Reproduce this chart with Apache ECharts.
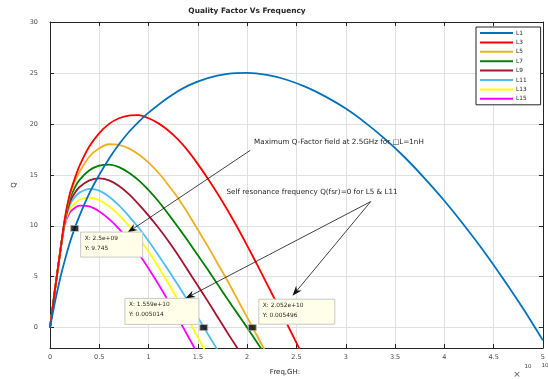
<!DOCTYPE html>
<html><head><meta charset="utf-8">
<script src="https://cdn.jsdelivr.net/npm/echarts@6/dist/echarts.min.js"></script>
<style>html,body{margin:0;padding:0;background:#fff}#c{width:548px;height:379px}</style>
</head><body><div id="c"></div>
<script>
// ---- data (frequency in units of 1e10 Hz, Q dimensionless) ----
const seriesNames = ['L1','L3','L5','L7','L9','L11','L13','L15'];
const xTickValues = [0,0.5,1,1.5,2,2.5,3,3.5,4,4.5,5];
const yTickValues = [0,5,10,15,20,25,30];

const fL1 = [0,0.05,0.1,0.15,0.2,0.25,0.3,0.4,0.5,0.6,0.7,0.8,0.9,1.0,1.2,1.4,1.6,1.8,2.0,2.2,2.4,2.6,2.8,3.0,3.2,3.4,3.6,3.8,4.0,4.2,4.4,4.6,4.8,5.0];
const qL1 = [0,2.5,4.7,6.6,8.3,9.745,11.0,13.2,15.0,16.6,18.0,19.2,20.2,21.1,22.6,23.75,24.5,24.9,25.0,24.8,24.33,23.6,22.65,21.5,20.1,18.5,16.7,14.65,12.45,10.05,7.5,4.75,1.85,-1.25];

const fL3 = [0,0.025,0.05,0.1,0.15,0.2,0.25,0.3,0.4,0.5,0.6,0.7,0.8,0.9,1.0,1.1,1.2,1.3,1.4,1.5,1.6,1.7,1.8,1.9,2.0,2.1,2.2,2.3,2.4,2.5,2.6];
const qL3 = [0,1.8,3.7,7.2,10.7,13.1,14.6,15.9,17.8,19.1,20.0,20.55,20.82,20.85,20.55,20.05,19.35,18.45,17.35,16.05,14.65,13.15,11.55,9.85,8.05,6.2,4.3,2.4,0.45,-1.5,-3.4];

const fL5 = [0,0.025,0.05,0.1,0.15,0.2,0.25,0.3,0.4,0.5,0.6,0.7,0.8,0.9,1.0,1.1,1.2,1.3,1.4,1.5,1.6,1.7,1.8,1.9,2.0,2.1,2.2];
const qL5 = [0,1.8,3.7,7.2,10.6,12.9,14.3,15.3,16.8,17.6,18.0,17.95,17.6,17.0,16.2,15.2,14.0,12.7,11.2,9.6,8.0,6.3,4.6,2.8,1.0,-0.8,-2.6];

const fL7 = [0,0.025,0.05,0.1,0.15,0.2,0.25,0.3,0.4,0.5,0.6,0.7,0.8,0.9,1.0,1.1,1.2,1.3,1.4,1.5,1.6,1.7,1.8,1.9,2.0,2.1,2.2];
const qL7 = [0,1.8,3.7,7.2,10.5,12.6,13.7,14.5,15.45,15.9,16.0,15.75,15.2,14.45,13.5,12.4,11.15,9.85,8.5,7.1,5.7,4.25,2.8,1.4,0,-1.45,-2.9];

const fL9 = [0,0.025,0.05,0.1,0.15,0.2,0.25,0.3,0.4,0.5,0.6,0.7,0.8,0.9,1.0,1.1,1.2,1.3,1.4,1.5,1.6,1.7,1.8,1.9,2.0];
const qL9 = [0,1.8,3.7,7.2,10.4,12.3,13.2,13.8,14.45,14.66,14.45,13.9,13.1,12.1,11.0,9.8,8.5,7.1,5.6,4.1,2.6,1.05,-0.5,-2.0,-3.5];

const fL11 = [0,0.025,0.05,0.1,0.15,0.2,0.25,0.3,0.4,0.5,0.6,0.7,0.8,0.9,1.0,1.1,1.2,1.3,1.4,1.5,1.6,1.7,1.8];
const qL11 = [0,1.8,3.7,7.2,10.3,12.0,12.8,13.25,13.62,13.45,12.85,12.0,10.95,9.8,8.5,7.1,5.65,4.15,2.6,1.0,-0.6,-2.2,-3.8];

const fL13 = [0,0.025,0.05,0.1,0.15,0.2,0.25,0.3,0.4,0.5,0.6,0.7,0.8,0.9,1.0,1.1,1.2,1.3,1.4,1.5,1.6];
const qL13 = [0,1.8,3.7,7.2,10.2,11.6,12.2,12.55,12.76,12.5,11.9,11.05,10.0,8.8,7.45,5.95,4.35,2.65,0.85,-0.95,-2.75];

const fL15 = [0,0.025,0.05,0.1,0.15,0.2,0.25,0.3,0.4,0.5,0.6,0.7,0.8,0.9,1.0,1.1,1.2,1.3,1.4,1.5];
const qL15 = [0,1.8,3.7,7.2,10.1,11.3,11.75,11.97,11.9,11.4,10.65,9.7,8.55,7.25,5.8,4.25,2.6,0.9,-0.85,-2.6];

// data tips (x in 1e10 Hz)
const tipX = [0.25, 1.559, 2.052];
const tipY = [9.745, 0.005014, 0.005496];
const tipTextX = ['X: 2.5e+09', 'X: 1.559e+10', 'X: 2.052e+10'];
const tipTextY = ['Y: 9.745', 'Y: 0.005014', 'Y: 0.005496'];

const annotationTexts = ['Maximum Q-Factor field at 2.5GHz for \u25A1L=1nH', 'Self resonance frequency Q(fsr)=0 for L5 & L11'];

// ---- styling ----
const colors = ['#0072BD','#FF0000','#EDB120','#008000','#A2142F','#4DBEEE','#FFFF00','#FF00FF'];
const freqs = [fL1,fL3,fL5,fL7,fL9,fL11,fL13,fL15];
const qs = [qL1,qL3,qL5,qL7,qL9,qL11,qL13,qL15];
const FONT = '"DejaVu Sans", "Liberation Sans", Arial, sans-serif';

const chart = echarts.init(document.getElementById('c'), null, {renderer:'canvas'});

const series = seriesNames.map((n,i)=>({
  name:n, type:'line', xAxisIndex:0, yAxisIndex:0,
  data: freqs[i].map((f,j)=>[f, qs[i][j]]),
  smooth:0.25, showSymbol:false, symbol:'none',
  lineStyle:{color:colors[i], width:1.8}, itemStyle:{color:colors[i]},
  z: 10 - i*0.1, silent:true, clip:true
}));
series.push({
  type:'scatter', name:'tips', xAxisIndex:0, yAxisIndex:0,
  data: tipX.map((x,i)=>[x, tipY[i]]),
  symbol:'rect', symbolSize:[8,6],
  itemStyle:{color:'#000', borderColor:'#bbb', borderWidth:1}, z:20, silent:true
});

const axisLineCommon = {show:true, onZero:false, lineStyle:{color:'#262626', width:1}};
const tickCommon = {show:true, inside:true, length:4, lineStyle:{color:'#262626'}};
const labelStyle = {fontFamily:FONT, fontSize:6.5, color:'#4a4a4a'};

chart.setOption({
  animation:false,
  backgroundColor:'#fff',
  legend:{orient:'vertical', left:476, top:27, data:seriesNames, icon:'rect',
    itemWidth:33, itemHeight:2, itemGap:3.4,
    padding:[3,14,3,4], borderColor:'#262626', borderWidth:1, backgroundColor:'#fff',
    textStyle:{fontFamily:FONT, fontSize:5.8, color:'#262626', lineHeight:8, padding:[-3,0,0,-2]},
    selectedMode:false},
  grid:{left:50, top:22, right:0, bottom:31, containLabel:false},
  xAxis:[
    {type:'value', min:0, max:5, interval:0.5, position:'bottom',
      axisLine:axisLineCommon, axisTick:tickCommon,
      axisLabel:Object.assign({margin:6, formatter:v=>String(v)}, labelStyle),
      splitLine:{show:true, lineStyle:{color:'#e0e0e0', width:1}}},
    {type:'value', min:0, max:5, interval:0.5, position:'top',
      axisLine:axisLineCommon, axisTick:tickCommon,
      axisLabel:{show:false}, splitLine:{show:false}}
  ],
  yAxis:[
    {type:'value', min:-2, max:30, position:'left',
      axisLine:axisLineCommon,
      axisTick:Object.assign({customValues:yTickValues}, tickCommon),
      axisLabel:Object.assign({margin:12, customValues:yTickValues}, labelStyle),
      splitLine:{show:true, lineStyle:{color:'#e0e0e0', width:1}}},
    {type:'value', min:-2, max:30, position:'right',
      axisLine:axisLineCommon,
      axisTick:Object.assign({customValues:yTickValues}, tickCommon),
      axisLabel:{show:false}, splitLine:{show:false}}
  ],
  series: series
});

// ---- annotations anchored in data coordinates ----
const toPx = (x,y)=>chart.convertToPixel({gridIndex:0}, [x,y]);
const arrows = [
  {from:[2.031,17.4], to:[0.786,9.33]},
  {from:[3.253,12.37], to:[1.372,2.86]},
  {from:[3.253,12.37], to:[2.46,3.12]}
];
const textAnchors = [[2.07,18.2],[1.79,13.3]];
const tipBoxes = [[0.311,9.38,62,25],[0.760,2.87,74,26],[2.118,2.79,76,25]];

const g = [];
arrows.forEach(a=>{
  const p1 = toPx(a.from[0],a.from[1]), p2 = toPx(a.to[0],a.to[1]);
  const dx = p2[0]-p1[0], dy = p2[1]-p1[1], L = Math.hypot(dx,dy);
  const ux = dx/L, uy = dy/L, nx = -uy, ny = ux;
  const len = 10, hw = 3.6, notch = 7;
  const b = [p2[0]-ux*len, p2[1]-uy*len];
  const m = [p2[0]-ux*notch, p2[1]-uy*notch];
  g.push({type:'line', shape:{x1:p1[0],y1:p1[1],x2:m[0],y2:m[1]}, style:{stroke:'#111', lineWidth:0.8}, z:30});
  g.push({type:'polygon', shape:{points:[p2,[b[0]+nx*hw,b[1]+ny*hw],m,[b[0]-nx*hw,b[1]-ny*hw]]}, style:{fill:'#111'}, z:30});
});
annotationTexts.forEach((t,i)=>{
  const p = toPx(textAnchors[i][0], textAnchors[i][1]);
  g.push({type:'text', x:p[0], y:p[1], style:{text:t, fontFamily:FONT, fontSize:7.2, fill:'#262626', textVerticalAlign:'middle'}, z:31});
});
tipBoxes.forEach((bx,i)=>{
  const p = toPx(bx[0], bx[1]);
  g.push({type:'rect', shape:{x:p[0], y:p[1], width:bx[2], height:bx[3]}, style:{fill:'#ffffe9', stroke:'#c8c8c8', lineWidth:1}, z:32});
  g.push({type:'text', x:p[0]+4, y:p[1]+6, style:{text:tipTextX[i], fontFamily:FONT, fontSize:5.9, fill:'#262626', textVerticalAlign:'middle'}, z:33});
  g.push({type:'text', x:p[0]+4, y:p[1]+16, style:{text:tipTextY[i], fontFamily:FONT, fontSize:5.9, fill:'#262626', textVerticalAlign:'middle'}, z:33});
});
// title, axis titles and exponent
g.push({type:'text', x:247, y:11, style:{text:'Quality Factor Vs Frequency', fontFamily:FONT, fontSize:7.4, fontWeight:'bold', fill:'#262626', textAlign:'center', textVerticalAlign:'middle'}});
g.push({type:'text', x:285, y:372, style:{text:'Freq,GH:', fontFamily:FONT, fontSize:7, fill:'#262626', textAlign:'center', textVerticalAlign:'middle'}});
g.push({type:'text', x:14, y:185, rotation:Math.PI/2, style:{text:'Q', fontFamily:FONT, fontSize:7, fill:'#262626', textAlign:'center', textVerticalAlign:'middle'}});
g.push({type:'text', x:517, y:375, style:{text:'\u00D7', fontFamily:FONT, fontSize:9, fill:'#555', textAlign:'center', textVerticalAlign:'middle'}});
g.push({type:'text', x:528, y:367, style:{text:'10', fontFamily:FONT, fontSize:5.5, fill:'#444', textAlign:'center', textVerticalAlign:'middle'}});
g.push({type:'text', x:545, y:366, style:{text:'10', fontFamily:FONT, fontSize:5.5, fill:'#444', textAlign:'center', textVerticalAlign:'middle'}});
chart.setOption({graphic:{elements:g}});
</script>
</body></html>
